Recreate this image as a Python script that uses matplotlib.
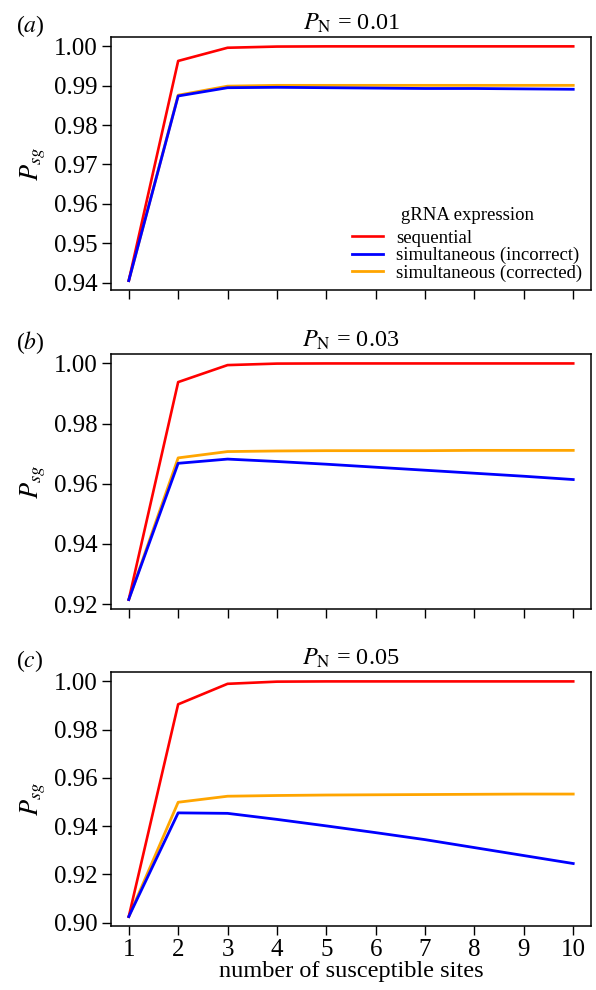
import matplotlib
matplotlib.use("Agg")
import matplotlib.pyplot as plt

plt.rcParams['font.family'] = ['Liberation Serif', 'DejaVu Serif']
plt.rcParams['mathtext.fontset'] = 'stix'
plt.rcParams['axes.xmargin'] = 0.04
plt.rcParams['axes.ymargin'] = 0.04

sites = [1, 2, 3, 4, 5, 6, 7, 8, 9, 10]
pn_values = ["0.01", "0.03", "0.05"]
panel_tags = ["a", "b", "c"]

# sequential / simultaneous (incorrect) / simultaneous (corrected)
seq_a = [0.9405, 0.9963, 0.99965, 0.99995, 1.0, 1.0, 1.0, 1.0, 1.0, 1.0]
inc_a = [0.9405, 0.9874, 0.9895, 0.9896, 0.9895, 0.9894, 0.9893, 0.9893, 0.9892, 0.9891]
cor_a = [0.9405, 0.9876, 0.9899, 0.9901, 0.9901, 0.9901, 0.9901, 0.9901, 0.9901, 0.9901]

seq_b = [0.9215, 0.9938, 0.99945, 0.99995, 1.0, 1.0, 1.0, 1.0, 1.0, 1.0]
inc_b = [0.9215, 0.9668, 0.9682, 0.9674, 0.9665, 0.9655, 0.9645, 0.9635, 0.9625, 0.9614]
cor_b = [0.9215, 0.9686, 0.9707, 0.9709, 0.9710, 0.9710, 0.9710, 0.9711, 0.9711, 0.9711]

seq_c = [0.9025, 0.9905, 0.9990, 0.9999, 1.0, 1.0, 1.0, 1.0, 1.0, 1.0]
inc_c = [0.9025, 0.9455, 0.9453, 0.9428, 0.9401, 0.9373, 0.9344, 0.9311, 0.9278, 0.9245]
cor_c = [0.9025, 0.9499, 0.9524, 0.9527, 0.9529, 0.9530, 0.9531, 0.9532, 0.9533, 0.9533]

panels = [(seq_a, inc_a, cor_a), (seq_b, inc_b, cor_b), (seq_c, inc_c, cor_c)]
yticks = [[0.94, 0.95, 0.96, 0.97, 0.98, 0.99, 1.00],
          [0.92, 0.94, 0.96, 0.98, 1.00],
          [0.90, 0.92, 0.94, 0.96, 0.98, 1.00]]

fig = plt.figure(figsize=(5.96, 9.9), dpi=100)
# axes boxes in pixels: left, top, right, bottom
px = [(111, 37, 591, 290), (111, 354, 591, 609), (111, 672, 591, 926)]
W, H = 596.0, 990.0

for i, (seq, inc, cor) in enumerate(panels):
    l, t, r, b = px[i]
    ax = fig.add_axes([l / W, 1 - b / H, (r - l) / W, (b - t) / H])
    ax.plot(sites, seq, color='#ff0000', lw=1.9, label='sequential', zorder=3)
    ax.plot(sites, cor, color='#ffa500', lw=2.0, label='simultaneous (corrected)', zorder=2)
    ax.plot(sites, inc, color='#0000ff', lw=2.0, label='simultaneous (incorrect)', zorder=4)
    ax.set_xticks(sites)
    ax.set_yticks(yticks[i])
    ax.set_yticklabels([f"{v:.2f}" for v in yticks[i]])
    ax.tick_params(direction='out', length=6.5, labelsize=18, width=1, pad=3)
    if i < 2:
        ax.set_xticklabels([])
    else:
        ax.set_xlabel("number of susceptible sites", fontsize=17.5, labelpad=0)
    ax.set_ylabel(r"$P_{sg}$", fontsize=19, labelpad=4)
    ax.set_title(r"$P_{\mathrm{N}}$ = " + pn_values[i], fontsize=17.5, pad=5)
    for s in ax.spines.values():
        s.set_linewidth(1.1)
    fig.text(16 / W, 1 - (t - 11) / H, "(" + r"$\it{" + panel_tags[i] + "}$" + ")",
             fontsize=17, va='center')
    if i == 0:
        h, lab = ax.get_legend_handles_labels()
        order = [0, 2, 1]
        leg = ax.legend([h[k] for k in order], [lab[k] for k in order], title="gRNA expression",
                        loc='lower right', frameon=False, fontsize=13.5, title_fontsize=13.5,
                        handlelength=1.65, handletextpad=0.7, labelspacing=0.0,
                        borderaxespad=0.15, borderpad=0.3)
        leg._legend_box.sep = 4

fig.savefig("out.png", dpi=100)
